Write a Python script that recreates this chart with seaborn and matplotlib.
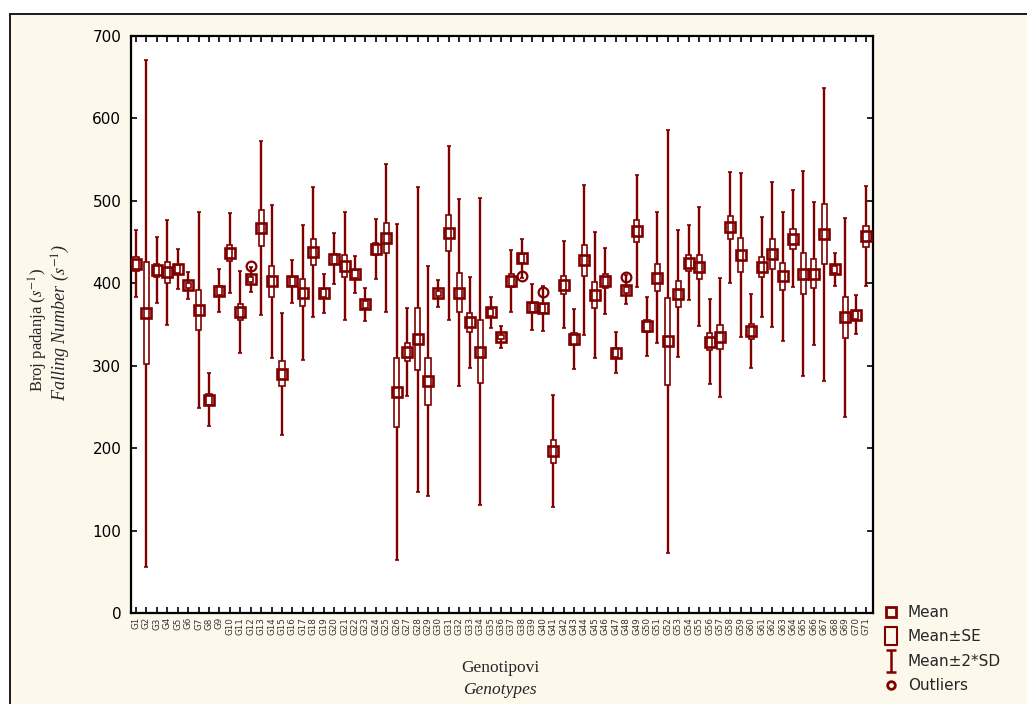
import numpy as np
import pandas as pd
import matplotlib
matplotlib.use("Agg")
import matplotlib.pyplot as plt
import seaborn as sns
from matplotlib.lines import Line2D
from matplotlib.path import Path
from matplotlib.patches import Rectangle

# ---------------- data ----------------
genotypes = [f"G{i}" for i in range(1, 72)]

means = [423.8, 363.8, 415.7, 413.3, 417.6, 397.4, 367.6, 259.0, 391.2, 436.8,
         365.2, 404.6, 467.0, 402.2, 290.2, 402.2, 388.8, 438.2, 387.8, 429.6,
         420.5, 410.9, 374.3, 441.6, 454.6, 267.7, 316.7, 332.0, 281.1, 387.8,
         461.3, 388.8, 352.7, 317.2, 364.7, 334.9, 403.2, 430.1, 371.0, 369.5,
         196.0, 398.4, 332.5, 427.8, 385.8, 402.7, 316.0, 392.3, 463.4, 347.6,
         407.0, 329.4, 387.5, 424.8, 420.0, 329.0, 334.6, 467.7, 434.3, 342.0,
         420.0, 435.2, 408.3, 453.8, 411.8, 411.8, 459.5, 417.0, 358.5, 362.0,
         457.0]

sds = [20.5, 153.8, 20.0, 31.8, 12.0, 8.0, 59.4, 16.2, 13.0, 24.2,
       25.0, 7.5, 52.8, 46.2, 37.0, 12.8, 41.2, 39.4, 12.0, 15.5,
       32.8, 11.4, 10.2, 18.2, 45.0, 102.0, 26.6, 92.5, 69.8, 8.0,
       52.8, 56.8, 27.6, 93.0, 9.4, 6.8, 18.8, 12.0, 13.8, 13.5,
       34.0, 26.5, 18.0, 45.5, 38.2, 20.2, 12.4, 9.0, 33.8, 17.9,
       39.5, 128.5, 38.5, 22.8, 36.2, 25.8, 36.0, 33.5, 49.5, 22.5,
       30.3, 44.0, 39.0, 29.4, 62.3, 43.6, 88.8, 10.0, 60.5, 12.0,
       30.3]

ses = [8.4, 62.0, 8.2, 13.0, 4.9, 3.3, 24.0, 6.6, 5.3, 9.9,
       10.2, 3.1, 21.6, 18.9, 15.1, 5.2, 16.8, 16.1, 4.9, 6.3,
       13.4, 4.7, 4.2, 7.4, 18.4, 41.6, 10.9, 37.8, 28.5, 3.3,
       21.6, 23.2, 11.3, 38.0, 3.8, 2.8, 7.7, 4.9, 5.6, 5.5,
       13.9, 10.8, 7.3, 18.6, 15.6, 8.2, 5.1, 3.7, 13.8, 7.3,
       16.1, 52.5, 15.7, 9.3, 14.8, 10.5, 14.7, 13.7, 20.2, 9.2,
       12.4, 18.0, 15.9, 12.0, 25.4, 17.8, 36.2, 4.1, 24.7, 4.9,
       12.4]

outlier_genotypes = ["G12", "G38", "G40", "G48"]
outlier_values = [421.0, 408.5, 390.0, 408.0]

y_ticks = [0, 100, 200, 300, 400, 500, 600, 700]
legend_labels = ["Mean", "Mean±SE", "Mean±2*SD", "Outliers"]

# ---------------- style ----------------
sns.set_theme(style="ticks")
plt.rcParams["font.family"] = ["DejaVu Sans"]
plt.rcParams["mathtext.fontset"] = "stix"

MAROON = "#800000"
CREAM = "#fdf8ec"
W, H = 1027, 704

fig = plt.figure(figsize=(W / 100, H / 100), dpi=100, facecolor="white")
fig.patches.append(Rectangle((10 / W, -0.05), 1.2, 1 - 14 / H + 0.05,
                             transform=fig.transFigure, facecolor=CREAM,
                             edgecolor="#1a1a1a", lw=1.4, zorder=-10))

ax = fig.add_axes([131 / W, 1 - 613 / H, (873 - 131) / W, (613 - 36) / H])
ax.set_facecolor("white")

df = pd.DataFrame({"Genotype": genotypes, "mean": means, "sd": sds, "se": ses})

sns.pointplot(data=df, x="Genotype", y="mean", order=genotypes, color=MAROON,
              markers="s", linestyle="none", errorbar=None, markersize=7.8,
              markeredgewidth=1.9, ax=ax, zorder=5)
for ln in ax.lines:
    ln.set_markerfacecolor("none")
    ln.set_zorder(5)

xpos = np.arange(len(genotypes))
ax.errorbar(xpos, df["mean"], yerr=2 * df["sd"], fmt="none", ecolor=MAROON,
            elinewidth=1.7, capsize=1.6, capthick=1.2, zorder=2)
ax.bar(xpos, 2 * df["se"], bottom=df["mean"] - df["se"], width=0.5,
       facecolor="white", edgecolor=MAROON, linewidth=1.2, zorder=3)

ox = [genotypes.index(g) for g in outlier_genotypes]
ax.plot(ox, outlier_values, ls="none", marker="o", ms=7, mfc="none",
        mec=MAROON, mew=1.6, zorder=6)

ax.set_xlim(-0.48, 70.67)
ax.set_ylim(0, 700)
ax.set_yticks(y_ticks)
ax.set_xticks(xpos)
ax.set_xticklabels(genotypes)
ax.set_xlabel("")
ax.set_ylabel("")
ax.grid(False)
ax.tick_params(axis="both", direction="in", top=True, right=True,
               length=4, width=1.2, color="black")
ax.tick_params(axis="x", labelsize=6.3, pad=3, labelrotation=90, labelcolor="#333333")
ax.tick_params(axis="y", labelsize=11, pad=7, labelcolor="black")
for sp in ax.spines.values():
    sp.set_visible(True)
    sp.set_linewidth(1.6)
    sp.set_color("black")

# axis titles
fig.text(38 / W, 1 - 330 / H, r"Broj padanja ($s^{-1}$)", rotation=90,
         ha="center", va="center", family="Liberation Serif", fontsize=12)
fig.text(61 / W, 1 - 322 / H, r"Falling Number ($s^{-1}$)", rotation=90,
         ha="center", va="center", family="Liberation Serif", style="italic",
         fontsize=13)
fig.text(500 / W, 1 - 668 / H, "Genotipovi", ha="center", va="center",
         family="Liberation Serif", fontsize=12.5)
fig.text(500 / W, 1 - 690 / H, "Genotypes", ha="center", va="center",
         family="Liberation Serif", style="italic", fontsize=12.5)

# legend
rect_path = Path([(-0.35, -0.5), (0.35, -0.5), (0.35, 0.5), (-0.35, 0.5), (-0.35, -0.5)],
                 [Path.MOVETO, Path.LINETO, Path.LINETO, Path.LINETO, Path.CLOSEPOLY])
ibeam_path = Path([(-0.23, -0.5), (0.23, -0.5), (0, -0.5), (0, 0.5), (-0.23, 0.5), (0.23, 0.5)],
                  [Path.MOVETO, Path.LINETO, Path.MOVETO, Path.LINETO, Path.MOVETO, Path.LINETO])
handles = [
    Line2D([], [], ls="none", marker="s", ms=6.5, mfc="none", mec=MAROON, mew=2),
    Line2D([], [], ls="none", marker=rect_path, ms=12.5, mfc="none", mec=MAROON, mew=1.5),
    Line2D([], [], ls="none", marker=ibeam_path, ms=16, mfc="none", mec=MAROON, mew=1.8),
    Line2D([], [], ls="none", marker="o", ms=5.5, mfc="none", mec=MAROON, mew=2),
]
fig.legend(handles, legend_labels, loc="upper left",
           bbox_to_anchor=(882 / W, 1 - 605 / H), frameon=False, fontsize=11,
           handlelength=1.2, handletextpad=0.5, labelspacing=0.62,
           borderaxespad=0, borderpad=0)

fig.savefig("out.png", dpi=100, facecolor=fig.get_facecolor())
